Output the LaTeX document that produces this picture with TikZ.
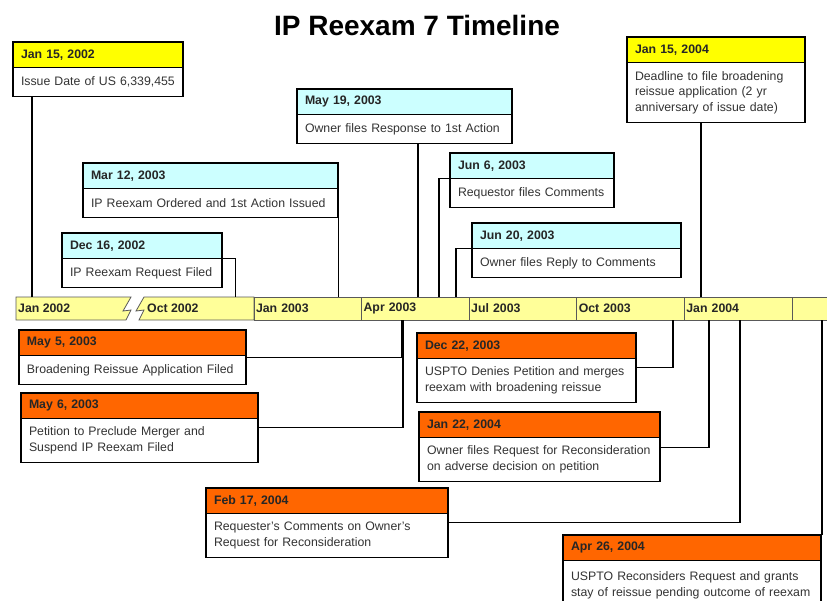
\documentclass[tikz,border=0pt]{standalone}
\usepackage{fontspec}
\setmainfont{Liberation Sans}
\usetikzlibrary{positioning, calc}

\definecolor{hdcyan}{HTML}{CCFFFF}
\definecolor{hdyellow}{HTML}{FFFF00}
\definecolor{hdorange}{HTML}{FF6600}
\definecolor{barfill}{HTML}{FFFF99}
\definecolor{txtgray}{HTML}{333333}

\begin{document}
\begin{tikzpicture}[x=1pt, y=-1pt,
  head/.style={draw, line width=1.9pt, outer sep=0pt, anchor=north west, inner xsep=8pt, inner ysep=0pt, minimum height=25.5pt, align=left, font=\fontsize{12.3}{15}\selectfont\bfseries, text=black!85},
  cyanhd/.style={head, fill=hdcyan},
  yellowhd/.style={head, fill=hdyellow},
  orangehd/.style={head, fill=hdorange},
  body/.style={draw, line width=1.9pt, outer sep=0pt, fill=white, inner xsep=8pt, inner ysep=0pt, minimum height=29pt, align=left, font=\fontsize{12.3}{15.5}\selectfont, text=txtgray},
  tall/.style={minimum height=44pt},
  seg/.style={draw=black!65, line width=0.8pt, outer sep=0pt, fill=barfill, anchor=north west, minimum width=107.6pt, text width=103.6pt, minimum height=23pt, inner xsep=2pt, inner ysep=0pt, align=left, font=\fontsize{12.3}{15}\selectfont\bfseries, text=black!85},
  barlbl/.style={anchor=west, inner sep=0pt, font=\fontsize{12.3}{15}\selectfont\bfseries, text=black!85},
  segline/.style={draw=black!65, line width=0.8pt, fill=barfill},
  conn/.style={line width=1.9pt}
]
\useasboundingbox (0,0) rectangle (827,600);
\clip (0,0) rectangle (827,600);

% Titulo
\node[font=\fontsize{28}{32}\selectfont\bfseries, anchor=base] (title) at (417,35) {IP Reexam 7 Timeline};

% Barra de tiempo (con corte entre Jan 2002 y Oct 2002)
\draw[segline] (16,297) -- (131,297) -- (123,311) -- (131,310) -- (126,320) -- (16,320) -- cycle;
\node[barlbl] (jan02) at (18,308.5) {Jan 2002};
\draw[segline] (144,297) -- (254,297) -- (254,320) -- (139,320) -- (144,310) -- (136,311) -- cycle;
\node[barlbl] (oct02) at (147,308.5) {Oct 2002};
\foreach \lbl [count=\i from 0] in {Jan 2003, Apr 2003, Jul 2003, Oct 2003, Jan 2004, {}}
  \node[seg] (q\i) at (254+\i*107.6, 297) {\lbl};

% Fechas sobre la barra
\coordinate (t1) at (32.2,297);   % Jan 15, 2002
\coordinate (t2) at (235.5,297);  % Dec 16, 2002
\coordinate (t3) at (338.5,297);  % Mar 12, 2003
\coordinate (t4) at (418.3,297);  % May 19, 2003
\coordinate (t5) at (439.3,297);  % Jun 6, 2003
\coordinate (t6) at (456.1,297);  % Jun 20, 2003
\coordinate (t7) at (700.6,297);  % Jan 15, 2004
\coordinate (t8) at (402.1,320);  % May 5, 2003
\coordinate (t9) at (403.3,320);  % May 6, 2003
\coordinate (t10) at (672.9,320); % Dec 22, 2003
\coordinate (t11) at (708.7,320); % Jan 22, 2004
\coordinate (t12) at (740.1,320); % Feb 17, 2004
\coordinate (t13) at (822,320);   % Apr 26, 2004

% Eventos arriba de la barra
\node[yellowhd, text width=154pt] (h1) at (13,42) {Jan 15, 2002};
\node[body, text width=154pt, below=0pt of h1] (b1) {Issue Date of US 6,339,455};

\node[cyanhd, text width=144pt] (h2) at (62,233) {Dec 16, 2002};
\node[body, text width=144pt, below=0pt of h2] (b2) {IP Reexam Request Filed};

\node[cyanhd, text width=239pt] (h3) at (83,163) {Mar 12, 2003};
\node[body, text width=239pt, below=0pt of h3] (b3) {IP Reexam Ordered and 1st Action Issued};

\node[cyanhd, text width=199pt] (h4) at (297,89) {May 19, 2003};
\node[body, text width=199pt, below=0pt of h4] (b4) {Owner files Response to 1st Action};

\node[cyanhd, text width=148pt] (h5) at (450,153) {Jun 6, 2003};
\node[body, text width=148pt, below=0pt of h5] (b5) {Requestor files Comments};

\node[cyanhd, text width=193pt] (h6) at (472,223) {Jun 20, 2003};
\node[body, text width=193pt, below=0pt of h6] (b6) {Owner files Reply to Comments};

\node[yellowhd, text width=162pt] (h7) at (627,37) {Jan 15, 2004};
\node[body, text width=162pt, minimum height=60pt, below=0pt of h7] (b7) {Deadline to file broadening\\reissue application (2 yr\\anniversary of issue date)};

% Eventos abajo de la barra
\node[orangehd, text width=211pt] (h8) at (19,330) {May 5, 2003};
\node[body, text width=211pt, below=0pt of h8] (b8) {Broadening Reissue Application Filed};

\node[orangehd, text width=221pt] (h9) at (21,393) {May 6, 2003};
\node[body, tall, text width=221pt, below=0pt of h9] (b9) {Petition to Preclude Merger and\\Suspend IP Reexam Filed};

\node[orangehd, text width=203pt] (h10) at (417,333) {Dec 22, 2003};
\node[body, tall, text width=203pt, below=0pt of h10] (b10) {USPTO Denies Petition and merges\\reexam with broadening reissue};

\node[orangehd, text width=225pt] (h11) at (419,412) {Jan 22, 2004};
\node[body, tall, text width=225pt, below=0pt of h11] (b11) {Owner files Request for Reconsideration\\on adverse decision on petition};

\node[orangehd, text width=226pt] (h12) at (206,488) {Feb 17, 2004};
\node[body, tall, text width=226pt, below=0pt of h12] (b12) {Requester's Comments on Owner's\\Request for Reconsideration};

\node[orangehd, text width=242pt] (h13) at (563,535) {Apr 26, 2004};
\node[body, text width=242pt, minimum height=50pt, below=0pt of h13] (b13) {USPTO Reconsiders Request and grants\\stay of reissue pending outcome of reexam};

% Conectores arriba
\draw[conn] (t1) -- (t1 |- b1.south);
\draw[conn] (t2) |- (h2.south east);
\draw[conn] (t3) -- (t3 |- b3.south);
\draw[conn] (t4) -- (t4 |- b4.south);
\draw[conn] (t5) |- (h5.south west);
\draw[conn] (t6) |- (h6.south west);
\draw[conn] (t7) -- (t7 |- b7.south);

% Conectores abajo
\draw[conn] (t8) |- ([yshift=-2pt]b8.north east);
\draw[conn] (t9) |- ([yshift=-9pt]b9.north east);
\draw[conn] (t10) |- ([yshift=-9pt]b10.north east);
\draw[conn] (t11) |- ([yshift=-10pt]b11.north east);
\draw[conn] (t12) |- ([yshift=-9pt]b12.north east);
\draw[conn] (t13) -- (t13 |- h13.north);

\end{tikzpicture}
\end{document}
